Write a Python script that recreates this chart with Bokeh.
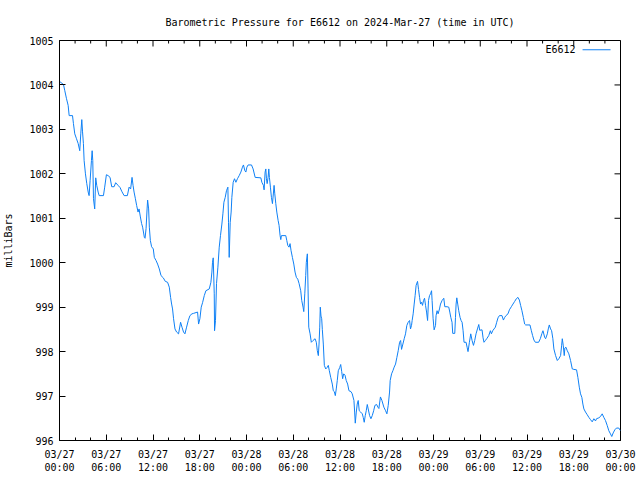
import math
from bokeh.plotting import figure
from bokeh.models import Range1d, FixedTicker, LinearAxis, Label, BoxAnnotation
from bokeh.embed import file_html
from bokeh.resources import INLINE

title_text = "Barometric Pressure for E6612 on 2024-Mar-27 (time in UTC)"
series_name = "E6612"
y_label = "milliBars"

# hours since 2024-03-27 00:00 UTC
hours = [
    0.00, 0.51, 0.68, 0.90, 1.11, 1.24, 1.67, 1.79, 1.96, 2.18, 2.40, 2.60, 2.73, 2.86, 2.95,
    3.07, 3.16, 3.33, 3.50, 3.68, 3.80, 3.93, 4.10, 4.19, 4.27, 4.36, 4.52, 4.65, 4.78, 4.96,
    5.09, 5.64, 5.80, 6.02, 6.24, 6.49, 6.70, 7.01, 7.21, 7.52, 7.78, 7.98, 8.29, 8.71, 8.93,
    9.13, 9.31, 9.44, 9.57, 9.74, 9.90, 10.08, 10.21, 10.38, 10.54, 10.67, 10.89, 10.98, 11.11,
    11.24, 11.31, 11.44, 11.53, 11.66, 11.82, 12.04, 12.17, 12.39, 12.59, 12.81, 13.03, 13.32,
    13.58, 13.87, 14.09, 14.26, 14.39, 14.51, 14.64, 14.82, 15.03, 15.28, 15.54, 15.72, 15.92,
    16.10, 16.31, 16.53, 16.74, 17.00, 17.20, 17.72, 17.85, 18.02, 18.19, 18.36, 18.58, 18.79,
    19.22, 19.43, 19.56, 19.64, 19.73, 19.86, 19.90, 20.02, 20.15, 20.33, 20.50, 20.66, 20.84,
    20.97, 21.10, 21.27, 21.43, 21.61, 21.69, 21.78, 21.91, 22.03, 22.12, 22.29, 22.46, 22.64,
    22.84, 23.06, 23.28, 23.48, 23.61, 23.79, 23.92, 24.05, 24.21, 24.64, 24.85, 25.11, 25.84,
    25.97, 26.17, 26.26, 26.39, 26.48, 26.56, 26.65, 26.77, 26.86, 26.94, 27.07, 27.20, 27.33,
    27.42, 27.54, 27.63, 27.76, 27.89, 28.06, 28.18, 28.31, 28.40, 28.48, 29.04, 29.17, 29.30,
    29.46, 29.59, 29.72, 29.89, 30.07, 30.23, 30.40, 30.58, 30.75, 30.96, 31.09, 31.26, 31.35,
    31.48, 31.60, 31.68, 31.81, 31.90, 31.99, 32.16, 32.32, 32.54, 32.80, 32.96, 33.09, 33.22,
    33.31, 33.40, 33.47, 33.56, 33.65, 33.73, 33.86, 33.99, 34.17, 34.33, 34.50, 34.63, 34.81,
    35.01, 35.14, 35.27, 35.40, 35.52, 35.65, 35.78, 35.96, 36.09, 36.22, 36.34, 36.47, 36.64,
    36.80, 36.98, 37.15, 37.41, 37.57, 37.79, 37.88, 37.96, 38.09, 38.21, 38.34, 38.47, 38.65,
    38.86, 38.98, 39.11, 39.24, 39.37, 39.50, 39.62, 39.80, 39.97, 40.14, 40.32, 40.48, 40.70,
    40.87, 40.99, 41.19, 41.38, 41.63, 41.85, 42.02, 42.19, 42.36, 42.44, 42.62, 42.79, 42.95,
    43.13, 43.30, 43.47, 43.65, 43.78, 43.90, 44.07, 44.24, 44.41, 44.58, 44.75, 44.93, 45.05,
    45.18, 45.26, 45.39, 45.52, 45.64, 45.77, 45.95, 46.08, 46.21, 46.34, 46.47, 46.59, 46.72,
    46.85, 46.98, 47.11, 47.24, 47.36, 47.49, 47.62, 47.75, 47.82, 47.95, 48.08, 48.26, 48.33,
    48.46, 48.59, 48.77, 48.90, 49.10, 49.32, 49.45, 49.74, 49.96, 50.09, 50.22, 50.38, 50.47,
    50.73, 50.82, 50.90, 50.99, 51.11, 51.24, 51.41, 51.54, 51.67, 51.80, 51.92, 52.18, 52.31,
    52.43, 52.61, 52.78, 52.95, 53.13, 53.29, 53.46, 53.64, 53.81, 53.93, 54.23, 54.36, 54.48,
    54.66, 54.87, 55.09, 55.30, 55.43, 55.60, 55.77, 55.94, 56.11, 56.28, 56.46, 56.79, 56.97,
    57.14, 57.30, 57.56, 57.74, 57.99, 58.20, 58.42, 58.63, 58.84, 59.02, 59.18, 59.35, 59.53,
    59.70, 59.83, 60.38, 60.56, 60.72, 60.89, 61.07, 61.49, 61.71, 61.92, 62.05, 62.27, 62.39,
    62.61, 62.73, 62.86, 63.03, 63.16, 63.32, 63.45, 63.67, 63.89, 64.09, 64.31, 64.44, 64.53,
    64.66, 64.78, 64.86, 64.99, 65.17, 65.37, 65.59, 65.81, 66.01, 66.36, 66.53, 66.71, 66.87,
    67.04, 67.17, 67.30, 67.51, 67.73, 67.94, 68.15, 68.37, 68.58, 68.79, 68.92, 69.22, 69.43,
    69.65, 69.86, 70.07, 70.29, 70.50, 70.71, 70.88, 71.06, 71.27, 71.48, 71.78, 72.00,
]

pressure = [
    1004.08, 1004.01, 1003.87, 1003.69, 1003.54, 1003.31, 1003.31, 1003.13, 1002.90, 1002.79,
    1002.68, 1002.52, 1002.90, 1003.22, 1002.96, 1002.68, 1002.30, 1002.00, 1001.78, 1001.59,
    1001.51, 1001.85, 1002.30, 1002.52, 1002.30, 1001.44, 1001.21, 1001.91, 1001.74, 1001.59,
    1001.51, 1001.51, 1001.70, 1001.98, 1001.96, 1001.92, 1001.71, 1001.71, 1001.80, 1001.74,
    1001.69, 1001.61, 1001.51, 1001.51, 1001.70, 1001.66, 1001.92, 1001.74, 1001.59, 1001.44,
    1001.29, 1001.14, 1001.21, 1001.03, 1000.88, 1000.80, 1000.57, 1000.55, 1000.77, 1001.21,
    1001.41, 1001.21, 1000.80, 1000.50, 1000.36, 1000.31, 1000.12, 1000.05, 999.97, 999.86,
    999.71, 999.66, 999.58, 999.56, 999.45, 999.22, 999.07, 998.96, 998.74, 998.51,
    998.44, 998.40, 998.66, 998.55, 998.44, 998.40, 998.55, 998.70, 998.81, 998.85,
    998.86, 998.89, 998.62, 998.74, 999.00, 999.10, 999.26, 999.37, 999.41, 999.56,
    999.79, 1000.01, 1000.11, 999.30, 998.47, 998.70, 999.53, 999.90, 1000.35, 1000.61,
    1000.87, 1001.10, 1001.36, 1001.47, 1001.62, 1001.70, 1000.91, 1000.12, 1000.91, 1001.14,
    1001.47, 1001.81, 1001.89, 1001.81, 1001.89, 1001.96, 1002.04, 1002.15, 1002.20, 1002.07,
    1002.04, 1002.15, 1002.20, 1002.20, 1002.11, 1001.92, 1001.91, 1001.81, 1001.74, 1001.64,
    1002.04, 1002.11, 1001.89, 1001.78, 1001.92, 1002.11, 1001.92, 1001.70, 1001.47, 1001.33,
    1001.50, 1001.74, 1001.55, 1001.33, 1001.14, 1000.95, 1000.84, 1000.61, 1000.52, 1000.61,
    1000.61, 1000.50, 1000.39, 1000.35, 1000.43, 1000.27, 1000.12, 999.97, 999.79, 999.67,
    999.63, 999.53, 999.37, 999.15, 999.00, 998.90, 999.30, 999.71, 1000.01, 1000.20,
    999.41, 998.55, 998.40, 998.21, 998.25, 998.29, 998.21, 998.02, 997.91, 998.17,
    998.55, 999.00, 998.80, 998.74, 998.50, 998.17, 997.69, 997.61, 997.64, 997.69,
    997.57, 997.42, 997.27, 997.12, 997.10, 997.01, 997.16, 997.35, 997.57, 997.64,
    997.71, 997.55, 997.39, 997.50, 997.47, 997.35, 997.27, 997.12, 997.10, 997.05,
    996.90, 996.64, 996.39, 996.64, 996.82, 996.90, 996.67, 996.64, 996.60, 996.52,
    996.41, 996.56, 996.67, 996.81, 996.71, 996.56, 996.49, 996.56, 996.67, 996.79,
    996.81, 996.75, 996.72, 996.98, 996.90, 996.75, 996.67, 996.60, 996.79, 997.09,
    997.35, 997.50, 997.57, 997.65, 997.72, 997.87, 998.02, 998.21, 998.25, 998.05,
    998.17, 998.29, 998.40, 998.59, 998.66, 998.70, 998.51, 998.59, 998.70, 998.85,
    999.07, 999.26, 999.49, 999.58, 999.40, 999.22, 999.07, 999.11, 999.04, 999.15,
    999.20, 999.04, 998.89, 998.70, 999.15, 999.26, 999.30, 999.37, 999.15, 998.74,
    998.49, 998.59, 998.81, 998.92, 998.85, 998.96, 999.07, 999.15, 999.20, 999.01,
    999.01, 999.00, 998.89, 998.77, 998.66, 998.41, 998.41, 998.77, 999.07, 999.21,
    999.07, 998.92, 998.77, 998.70, 998.66, 998.47, 998.21, 998.21, 998.10, 998.00,
    998.21, 998.40, 998.25, 998.14, 998.25, 998.40, 998.51, 998.61, 998.48, 998.49,
    998.31, 998.21, 998.25, 998.30, 998.36, 998.47, 998.40, 998.47, 998.51, 998.55,
    998.66, 998.76, 998.81, 998.81, 998.71, 998.77, 998.81, 998.85, 998.94, 999.01,
    999.07, 999.13, 999.19, 999.22, 999.16, 999.04, 998.92, 998.77, 998.62, 998.60,
    998.60, 998.47, 998.36, 998.26, 998.21, 998.21, 998.29, 998.41, 998.47, 998.32,
    998.29, 998.40, 998.51, 998.60, 998.51, 998.47, 998.29, 998.06, 997.91, 997.80,
    997.84, 997.91, 998.13, 998.29, 998.13, 997.91, 998.08, 998.10, 998.02, 997.95,
    997.80, 997.61, 997.60, 997.59, 997.42, 997.20, 997.05, 996.97, 996.82, 996.71,
    996.64, 996.58, 996.52, 996.47, 996.42, 996.49, 996.44, 996.49, 996.51, 996.54,
    996.60, 996.52, 996.45, 996.34, 996.22, 996.15, 996.09, 996.17, 996.24, 996.28,
    996.28, 996.22,
]

x_tick_hours = [0, 6, 12, 18, 24, 30, 36, 42, 48, 54, 60, 66, 72]
x_tick_labels = [
    "03/27\n00:00", "03/27\n06:00", "03/27\n12:00", "03/27\n18:00",
    "03/28\n00:00", "03/28\n06:00", "03/28\n12:00", "03/28\n18:00",
    "03/29\n00:00", "03/29\n06:00", "03/29\n12:00", "03/29\n18:00",
    "03/30\n00:00",
]
x_minor_hours = [h for h in range(0, 73, 2) if h % 6 != 0]
y_ticks = [996, 997, 998, 999, 1000, 1001, 1002, 1003, 1004, 1005]

X0, X1 = 0, 72
Y0, Y1 = 996, 1005

FONT = "DejaVu Sans Mono"
FS = "10px"
LINE_COLOR = "#0f80f5"

p = figure(width=640, height=480, output_backend="svg", toolbar_location=None,
           x_range=Range1d(X0, X1), y_range=Range1d(Y0, Y1),
           min_border_left=58, min_border_right=20, min_border_top=40, min_border_bottom=40,
           x_axis_type=None, y_axis_type=None)
p.background_fill_color = "white"
p.border_fill_color = "white"
p.outline_line_color = "black"
p.outline_line_width = 1
p.grid.visible = False

p.title.text = title_text
p.title.align = "center"
p.title.text_font = FONT
p.title.text_font_size = FS
p.title.text_font_style = "normal"
p.title.text_color = "black"
p.title.standoff = 26

xt = FixedTicker(ticks=x_tick_hours, minor_ticks=x_minor_hours)
yt = FixedTicker(ticks=y_ticks, minor_ticks=[])

def style(ax):
    ax.major_tick_in = 6
    ax.major_tick_out = 0
    ax.minor_tick_in = 3
    ax.minor_tick_out = 0
    ax.axis_line_color = "black"
    ax.major_tick_line_color = "black"
    ax.minor_tick_line_color = "black"
    ax.major_label_text_font = FONT
    ax.major_label_text_font_size = FS
    ax.major_label_text_color = "black"

xb = LinearAxis(ticker=xt)
style(xb)
xb.major_label_overrides = {h: lab for h, lab in zip(x_tick_hours, x_tick_labels)}
xb.major_label_standoff = 8
p.add_layout(xb, "below")

yl = LinearAxis(ticker=yt)
style(yl)
yl.major_label_standoff = 6
yl.axis_label = y_label
yl.axis_label_text_font = FONT
yl.axis_label_text_font_size = FS
yl.axis_label_text_font_style = "normal"
yl.axis_label_text_color = "black"
yl.axis_label_standoff = 12
p.add_layout(yl, "left")

# mirrored inward ticks on top and right edges (half of each dash is clipped by the frame)
p.scatter(x_tick_hours, [Y1] * len(x_tick_hours), marker="dash", angle=math.pi / 2,
          size=12, line_color="black", line_width=1)
p.scatter(x_minor_hours, [Y1] * len(x_minor_hours), marker="dash", angle=math.pi / 2,
          size=6, line_color="black", line_width=1)
p.scatter([X1] * len(y_ticks), y_ticks, marker="dash", size=12,
          line_color="black", line_width=1)

p.line(hours, pressure, line_color=LINE_COLOR, line_width=1)

# gnuplot-style key (label, then sample line) in the top right corner
key_y = 1004.79
p.add_layout(Label(x=66.23, y=key_y, text=series_name,
                   text_align="right", text_baseline="middle", text_font=FONT,
                   text_font_size=FS, text_color="black"))
p.add_layout(BoxAnnotation(left=67.13, right=70.72, top=key_y + 0.012, bottom=key_y - 0.012,
                           fill_color=LINE_COLOR, fill_alpha=1, line_color=None))

open("out.html", "w").write(file_html(p, INLINE))
